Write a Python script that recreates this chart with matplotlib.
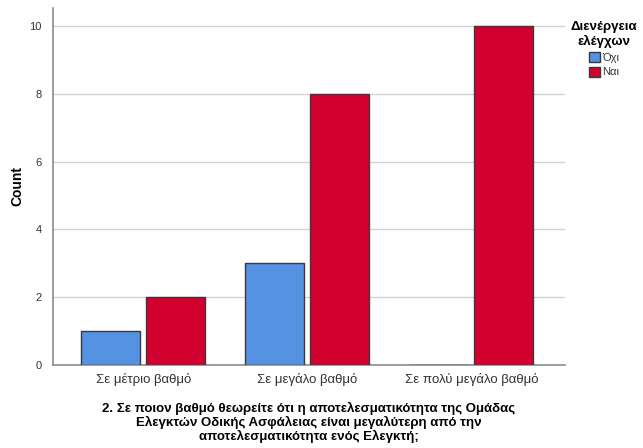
import numpy as np
import matplotlib.pyplot as plt

categories = ["Σε μέτριο βαθμό", "Σε μεγάλο βαθμό", "Σε πολύ μεγάλο βαθμό"]
series_names = ["Όχι", "Ναι"]
counts_oxi = [1, 3, 0]
counts_nai = [2, 8, 10]
colors = ["#5592e1", "#d2002f"]

plt.rcParams['font.family'] = ['Liberation Sans', 'DejaVu Sans']

fig = plt.figure(figsize=(6.43, 4.48), dpi=100)
ax = fig.add_axes([0.0824, 0.1853, 0.796, 0.797])

x = np.arange(len(categories))
w = 0.36
off = 0.198
for vals, name, c, o in zip([counts_oxi, counts_nai], series_names, colors, [-off, off]):
    ax.bar(x + o, vals, width=w, color=c, edgecolor="#3a3a3a", linewidth=1.0,
           label=name, zorder=3)

ax.set_xlim(-0.55, 2.57)
ax.set_ylim(0, 10.53)
ax.set_yticks([0, 2, 4, 6, 8, 10])
ax.set_xticks(x)
ax.set_xticklabels(categories, fontsize=9.5, color="#333333")
ax.tick_params(axis="y", labelsize=8, colors="#333333", length=0, pad=8)
ax.tick_params(axis="x", length=0, pad=6)
ax.yaxis.grid(True, color="#d4d4d4", linewidth=1.0, zorder=0)
for s in ["top", "right"]:
    ax.spines[s].set_visible(False)
for s in ["left", "bottom"]:
    ax.spines[s].set_color("#8c8c8c")
    ax.spines[s].set_linewidth(1.2)

ax.set_ylabel("Count", fontsize=10, fontweight="bold")
ax.yaxis.set_label_coords(-0.055, 0.5)
ax.set_xlabel("2. Σε ποιον βαθμό θεωρείτε ότι η αποτελεσματικότητα της Ομάδας\n"
              "Ελεγκτών Οδικής Ασφάλειας είναι μεγαλύτερη από την\n"
              "αποτελεσματικότητα ενός Ελεγκτή;",
              fontsize=9.5, fontweight="bold", labelpad=11, linespacing=1.1)

leg = ax.legend(title="Διενέργεια\nελέγχων", loc="upper center",
                bbox_to_anchor=(604 / 643, 1 - 11 / 448), bbox_transform=fig.transFigure,
                frameon=False, fontsize=8, handlelength=1.0, handleheight=1.0,
                handletextpad=0.2, labelspacing=0.35, alignment="center",
                title_fontproperties={"weight": "bold", "size": 9.5})
leg.get_title().set_multialignment("center")
for t in leg.get_texts():
    t.set_color("#333333")

fig.savefig("out.png", dpi=100)
